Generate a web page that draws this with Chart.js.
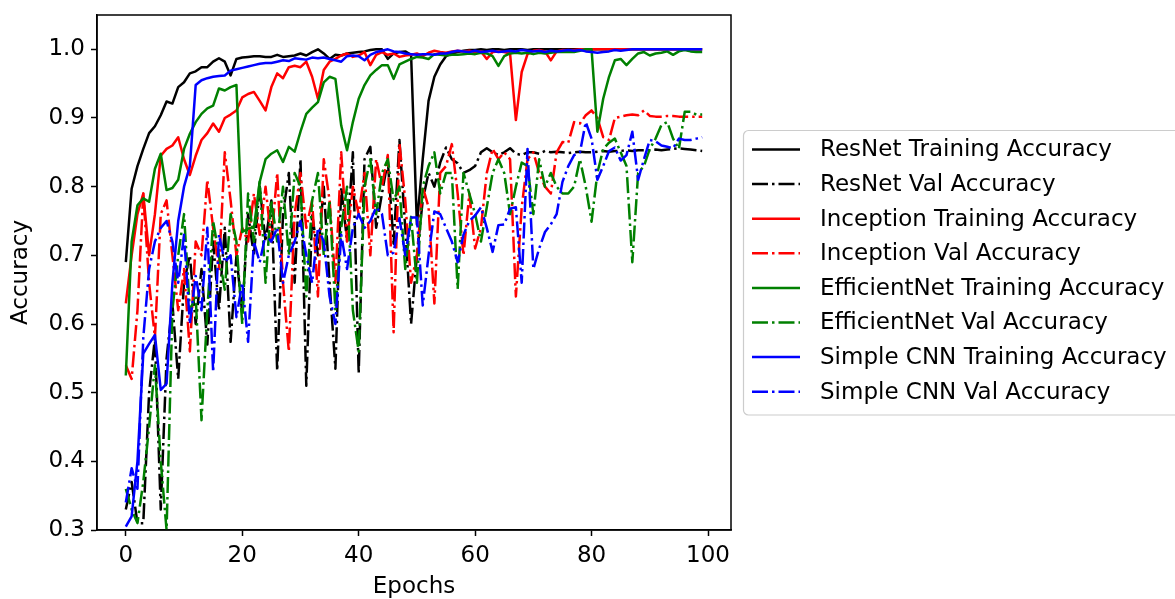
<!DOCTYPE html>
<html>
<head>
  <meta charset="UTF-8">
  <title>Training and Validation Accuracy</title>
  <style type="text/css">
    html, body { margin: 0; padding: 0; background: #ffffff; }
    #chart-container { width: 1175px; height: 599px; }
  </style>
  <script type="text/javascript" src="https://cdn.jsdelivr.net/npm/chart.js@4.4.0/dist/chart.umd.min.js"></script>
</head>
<body>
<div id="chart-container">
  <canvas id="mycanvas" width="1175" height="599"></canvas>
</div>
<script>
var epochs = [];
for (var i = 0; i < 100; i++) epochs.push(i);

var xTicks = [0, 20, 40, 60, 80, 100];
var yTicks = [0.3, 0.4, 0.5, 0.6, 0.7, 0.8, 0.9, 1.0];

var resnetTrain = [
  0.69, 0.797, 0.83, 0.855, 0.878, 0.888, 0.904, 0.924, 0.921, 0.945,
  0.952, 0.965, 0.968, 0.974, 0.974, 0.982, 0.987, 0.982, 0.962, 0.986,
  0.988, 0.989, 0.99, 0.99, 0.989, 0.989, 0.992, 0.989, 0.99, 0.991,
  0.994, 0.991, 0.996, 1.0, 0.994, 0.986, 0.992, 0.991, 0.994, 0.995,
  0.996, 0.997, 0.999, 1.0, 1.0, 0.986, 0.994, 0.996, 0.997, 0.992,
  0.745, 0.84, 0.925, 0.96, 0.978, 0.99, 0.994, 0.996, 0.998, 0.999,
  0.999, 1.0, 0.999, 1.0, 1.0, 0.999, 1.0, 1.0, 1.0, 0.999,
  1.0, 1.0, 1.0, 1.0, 1.0, 1.0, 1.0, 1.0, 1.0, 1.0,
  1.0, 1.0, 1.0, 1.0, 1.0, 1.0, 1.0, 1.0, 1.0, 1.0,
  1.0, 1.0, 1.0, 1.0, 1.0, 1.0, 1.0, 1.0, 1.0, 1.0
];
var resnetVal = [
  0.33, 0.37, 0.31, 0.31, 0.50, 0.58, 0.33, 0.55, 0.63, 0.52,
  0.66, 0.70, 0.60, 0.68, 0.57, 0.72, 0.62, 0.74, 0.574, 0.70,
  0.615, 0.76, 0.70, 0.80, 0.72, 0.78, 0.532, 0.76, 0.82, 0.66,
  0.84, 0.51, 0.76, 0.70, 0.80, 0.66, 0.535, 0.80, 0.72, 0.85,
  0.528, 0.84, 0.858, 0.74, 0.79, 0.838, 0.717, 0.868, 0.74, 0.60,
  0.70, 0.78, 0.82, 0.80, 0.835, 0.857, 0.84, 0.834, 0.82, 0.824,
  0.83, 0.85, 0.856, 0.85, 0.846, 0.85, 0.856, 0.848, 0.846, 0.85,
  0.85, 0.848, 0.852, 0.85, 0.851, 0.85, 0.849, 0.85, 0.851, 0.85,
  0.85, 0.851, 0.852, 0.851, 0.852, 0.852, 0.853, 0.852, 0.853, 0.853,
  0.853, 0.854, 0.853, 0.854, 0.855, 0.856, 0.855, 0.854, 0.853, 0.852
];
var inceptionTrain = [
  0.63, 0.70, 0.76, 0.79, 0.70, 0.76, 0.845, 0.855, 0.86, 0.872,
  0.84, 0.817, 0.845, 0.868, 0.878, 0.892, 0.88, 0.90, 0.905, 0.911,
  0.93, 0.935, 0.938, 0.925, 0.911, 0.945, 0.965, 0.958, 0.974, 0.976,
  0.974, 0.982, 0.96, 0.928, 0.97, 0.982, 0.986, 0.991, 0.994, 0.989,
  0.991, 0.996, 0.977, 0.992, 0.996, 0.992, 0.994, 0.989, 0.991, 0.992,
  0.994, 0.99, 0.995, 0.998, 0.996, 0.995, 0.997, 0.998, 0.997, 0.998,
  0.996, 0.997, 0.986, 0.996, 0.997, 0.996, 0.994, 0.897, 0.967, 0.993,
  0.998, 0.999, 0.997, 0.984, 0.997, 0.999, 0.999, 0.999, 1.0, 1.0,
  1.0, 1.0, 1.0, 1.0, 1.0, 1.0, 1.0, 1.0, 1.0, 1.0,
  1.0, 1.0, 1.0, 1.0, 1.0, 1.0, 1.0, 1.0, 1.0, 1.0
];
var inceptionVal = [
  0.54, 0.52, 0.62, 0.79, 0.66, 0.58, 0.76, 0.78, 0.70, 0.62,
  0.68, 0.56, 0.72, 0.70, 0.81, 0.74, 0.68, 0.85, 0.78, 0.70,
  0.74, 0.72, 0.79, 0.73, 0.80, 0.72, 0.82, 0.66, 0.56, 0.76,
  0.82, 0.74, 0.78, 0.64, 0.84, 0.78, 0.66, 0.85, 0.72, 0.80,
  0.76, 0.82, 0.70, 0.84, 0.80, 0.846, 0.588, 0.863, 0.78, 0.66,
  0.70, 0.80, 0.77, 0.63, 0.82, 0.83, 0.862, 0.79, 0.70, 0.79,
  0.71, 0.74, 0.82, 0.855, 0.84, 0.85, 0.84, 0.64, 0.77, 0.84,
  0.85, 0.82, 0.80, 0.79, 0.85, 0.865, 0.864, 0.894, 0.892, 0.904,
  0.911, 0.90, 0.872, 0.868, 0.90, 0.902, 0.904, 0.905, 0.904, 0.911,
  0.903, 0.902, 0.902, 0.903, 0.903, 0.902, 0.902, 0.902, 0.902, 0.902
];
var effTrain = [
  0.525, 0.72, 0.773, 0.783, 0.778, 0.826, 0.848, 0.795, 0.798, 0.81,
  0.855, 0.877, 0.894, 0.906, 0.914, 0.918, 0.943, 0.94, 0.945, 0.948,
  0.734, 0.739, 0.74, 0.807, 0.84, 0.848, 0.853, 0.836, 0.858, 0.851,
  0.88, 0.906, 0.915, 0.923, 0.952, 0.96, 0.957, 0.889, 0.853, 0.894,
  0.928, 0.948, 0.962, 0.97, 0.977, 0.977, 0.957, 0.978, 0.982, 0.986,
  0.989, 0.988, 0.986, 0.993, 0.992, 0.991, 0.992, 0.992, 0.993, 0.994,
  0.993, 0.995, 0.994, 0.99, 0.976, 0.99, 0.994, 0.995, 0.994, 0.995,
  0.993, 0.995, 0.994, 0.995, 0.996, 0.996, 0.996, 0.996, 0.998, 1.0,
  1.0, 0.88, 0.928, 0.96, 0.984, 0.986, 0.977, 0.986, 0.994, 0.996,
  0.991, 0.994, 0.995, 0.997, 0.992, 0.997, 0.999, 0.997, 0.996, 0.996
];
var effVal = [
  0.36, 0.33, 0.31, 0.37, 0.45, 0.54, 0.40, 0.30, 0.62, 0.70,
  0.76, 0.62, 0.64, 0.46, 0.62, 0.75, 0.70, 0.65, 0.76, 0.72,
  0.60, 0.79, 0.72, 0.81, 0.66, 0.78, 0.72, 0.80, 0.70, 0.82,
  0.80, 0.64, 0.78, 0.82, 0.70, 0.78, 0.62, 0.74, 0.80, 0.62,
  0.56, 0.80, 0.84, 0.76, 0.82, 0.84, 0.78, 0.80, 0.68, 0.756,
  0.66, 0.80, 0.83, 0.85, 0.79, 0.82, 0.82, 0.651, 0.82, 0.79,
  0.76, 0.72, 0.77, 0.82, 0.84, 0.82, 0.76, 0.80, 0.835, 0.83,
  0.76, 0.84, 0.80, 0.82, 0.80, 0.79, 0.79, 0.80, 0.84, 0.80,
  0.749, 0.82, 0.855, 0.864, 0.87, 0.85, 0.83, 0.69, 0.82, 0.83,
  0.855, 0.87, 0.89, 0.894, 0.87, 0.855, 0.909, 0.909, 0.905, 0.905
];
var cnnTrain = [
  0.305, 0.32, 0.40, 0.557, 0.571, 0.584, 0.504, 0.513, 0.66, 0.75,
  0.80, 0.83, 0.948, 0.955, 0.958, 0.96, 0.961, 0.962, 0.969, 0.971,
  0.973, 0.975, 0.977, 0.979, 0.98, 0.98, 0.982, 0.984, 0.983, 0.987,
  0.986, 0.985, 0.988, 0.987, 0.988, 0.986, 0.984, 0.982, 0.99, 0.991,
  0.99, 0.984, 0.992, 0.996, 0.998, 1.0, 0.997, 0.996, 0.994, 0.993,
  0.992, 0.993, 0.993, 0.992, 0.994, 0.994, 0.996, 0.998, 0.997, 0.996,
  0.998, 0.996, 0.997, 0.998, 0.996, 0.997, 0.998, 0.997, 0.999, 0.998,
  0.997, 0.998, 0.996, 0.998, 0.997, 0.998, 0.999, 0.998, 0.999, 0.997,
  0.996, 0.995, 0.996, 0.997, 0.999, 0.998, 0.999, 1.0, 1.0, 1.0,
  1.0, 1.0, 1.0, 1.0, 1.0, 1.0, 1.0, 1.0, 1.0, 1.0
];
var cnnVal = [
  0.34, 0.39, 0.36, 0.58, 0.68, 0.72, 0.74, 0.75, 0.72, 0.66,
  0.73, 0.60, 0.67, 0.62, 0.74, 0.53, 0.73, 0.69, 0.70, 0.61,
  0.66, 0.574, 0.72, 0.69, 0.73, 0.72, 0.74, 0.66, 0.70, 0.72,
  0.75, 0.70, 0.66, 0.74, 0.72, 0.64, 0.60, 0.73, 0.68, 0.74,
  0.76, 0.74, 0.75, 0.77, 0.76, 0.70, 0.704, 0.754, 0.70, 0.755,
  0.755, 0.627, 0.70, 0.764, 0.76, 0.74, 0.72, 0.69, 0.73, 0.75,
  0.758, 0.77, 0.74, 0.705, 0.744, 0.745, 0.768, 0.77, 0.66, 0.855,
  0.68, 0.71, 0.734, 0.745, 0.76, 0.807, 0.83, 0.846, 0.85, 0.894,
  0.87, 0.81, 0.83, 0.852, 0.857, 0.838, 0.846, 0.88, 0.81, 0.84,
  0.868, 0.866, 0.86, 0.858, 0.856, 0.87, 0.868, 0.868, 0.87, 0.872
];

var seriesNames = [
  'ResNet Training Accuracy', 'ResNet Val Accuracy',
  'Inception Training Accuracy', 'Inception Val Accuracy',
  'EfficientNet Training Accuracy', 'EfficientNet Val Accuracy',
  'Simple CNN Training Accuracy', 'Simple CNN Val Accuracy'
];
var seriesValues = [resnetTrain, resnetVal, inceptionTrain, inceptionVal, effTrain, effVal, cnnTrain, cnnVal];
var seriesColors = ['#000000', '#000000', '#ff0000', '#ff0000', '#008000', '#008000', '#0000ff', '#0000ff'];

var FONT = 'DejaVu Sans';
var DASHDOT = [16, 4, 2.5, 4];

var datasets = [];
for (var s = 0; s < seriesNames.length; s++) {
  var pts = [];
  for (var k = 0; k < epochs.length; k++) pts.push({x: epochs[k], y: seriesValues[s][k]});
  datasets.push({
    label: seriesNames[s],
    data: pts,
    borderColor: seriesColors[s],
    borderWidth: 2.5,
    borderDash: (s % 2 === 1) ? DASHDOT : [],
    borderJoinStyle: 'round',
    pointRadius: 0,
    fill: false,
    tension: 0,
    clip: 0,
    order: -s
  });
}

// matplotlib style legend box plus the full axes frame
var legendBox = {
  id: 'legendBox',
  afterDraw: function(chart) {
    var ctx = chart.ctx;
    var a = chart.chartArea;
    ctx.save();
    ctx.strokeStyle = '#000';
    ctx.lineWidth = 1.5;
    ctx.strokeRect(a.left, a.top, a.right - a.left, a.bottom - a.top);

    var x = 743.5, y = 130.5, w = 520, h = 284.5, r = 5;
    ctx.beginPath();
    ctx.moveTo(x + r, y);
    ctx.arcTo(x + w, y, x + w, y + h, r);
    ctx.arcTo(x + w, y + h, x, y + h, r);
    ctx.arcTo(x, y + h, x, y, r);
    ctx.arcTo(x, y, x + w, y, r);
    ctx.closePath();
    ctx.fillStyle = 'rgba(255,255,255,0.8)';
    ctx.fill();
    ctx.strokeStyle = '#cccccc';
    ctx.lineWidth = 1.2;
    ctx.stroke();

    chart.data.datasets.forEach(function(ds, i) {
      var ly = 149.5 + i * 34.6;
      ctx.beginPath();
      ctx.setLineDash(ds.borderDash);
      ctx.strokeStyle = ds.borderColor;
      ctx.lineWidth = ds.borderWidth;
      ctx.moveTo(752, ly);
      ctx.lineTo(800, ly);
      ctx.stroke();
      ctx.setLineDash([]);
      ctx.fillStyle = '#000';
      ctx.font = '23px "' + FONT + '"';
      ctx.textBaseline = 'middle';
      ctx.textAlign = 'left';
      ctx.fillText(ds.label, 820, ly + 1);
    });
    ctx.restore();
  }
};

var ctx = document.getElementById('mycanvas');
var lineGraph = new Chart(ctx, {
  type: 'line',
  data: { datasets: datasets },
  plugins: [legendBox],
  options: {
    responsive: false,
    animation: false,
    devicePixelRatio: 1,
    layout: { padding: { left: 0, top: 15, right: 444, bottom: 0 } },
    plugins: { legend: { display: false }, tooltip: { enabled: false } },
    scales: {
      x: {
        type: 'linear',
        min: -4.95,
        max: 103.95,
        afterBuildTicks: function(scale) {
          scale.ticks = xTicks.map(function(v) { return {value: v}; });
        },
        afterFit: function(scale) { scale.height = 69; },
        grid: { display: true, drawOnChartArea: false, drawTicks: true, tickLength: 6, tickWidth: 1.5, tickColor: '#000' },
        border: { display: true, color: '#000', width: 1.5 },
        ticks: {
          color: '#000', font: { family: FONT, size: 23 }, padding: 6,
          maxRotation: 0, autoSkip: false,
          callback: function(v) { return String(v); }
        },
        title: { display: true, text: 'Epochs', color: '#000', font: { family: FONT, size: 23, lineHeight: 1 }, padding: { top: 0, bottom: 0 } }
      },
      y: {
        type: 'linear',
        min: 0.3,
        max: 1.05,
        afterBuildTicks: function(scale) {
          scale.ticks = yTicks.map(function(v) { return {value: v}; });
        },
        afterFit: function(scale) {
          scale.width = 97;
          scale.paddingTop = 0;
          scale.paddingBottom = 0;
        },
        grid: { display: true, drawOnChartArea: false, drawTicks: true, tickLength: 6, tickWidth: 1.5, tickColor: '#000' },
        border: { display: true, color: '#000', width: 1.5 },
        ticks: {
          color: '#000', font: { family: FONT, size: 23 }, padding: 6,
          autoSkip: false,
          callback: function(v) { return Number(v).toFixed(1); }
        },
        title: { display: true, text: 'Accuracy', color: '#000', font: { family: FONT, size: 23, lineHeight: 1 }, padding: { top: 10, bottom: 0 } }
      }
    }
  }
});
</script>
</body>
</html>
